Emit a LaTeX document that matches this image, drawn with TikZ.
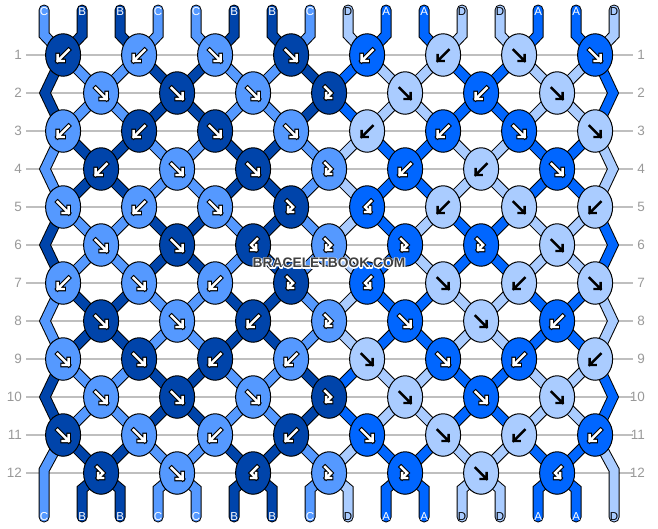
\documentclass[tikz,border=0pt]{standalone}
\usepackage{fontspec}
\setmainfont{Liberation Sans}
\usetikzlibrary{shapes.geometric}

\pgfdeclarelayer{lines}
\pgfdeclarelayer{strands}
\pgfsetlayers{lines,strands,main}

\newlength{\du}
\setlength{\du}{1pt}

\definecolor{colA}{rgb}{0.000000, 0.400000, 1.000000}
\definecolor{colB}{rgb}{0.000000, 0.266667, 0.666667}
\definecolor{colC}{rgb}{0.333333, 0.600000, 1.000000}
\definecolor{colD}{rgb}{0.666667, 0.800000, 1.000000}
\colorlet{txtA}{white}
\colorlet{txtB}{white}
\colorlet{txtC}{white}
\colorlet{txtD}{black}
\colorlet{rimA}{black}
\colorlet{rimB}{black}
\colorlet{rimC}{black}
\colorlet{rimD}{colD}
\definecolor{gridcolor}{rgb}{0.750000, 0.750000, 0.750000}
\definecolor{numcolor}{rgb}{0.600000, 0.600000, 0.600000}
\definecolor{markcolor}{rgb}{0.250000, 0.250000, 0.250000}

\tikzset{
  knot/.style={ellipse, draw=black, line width=1\du, minimum width=35\du, minimum height=42.5\du, inner sep=0pt},
  strandrim/.style={draw=black, line width=11\du, line cap=round, line join=miter},
  strandfill/.style={line width=9\du, line cap=round, line join=miter},
  glyphrim/.style={line width=4.6\du, line cap=rect, line join=miter},
  glyphfill/.style={line width=2.4\du, line cap=rect, line join=miter},
  rownum/.style={anchor=east, inner sep=0pt, text=numcolor, font=\fontsize{13.5}{14}\selectfont},
  endlabel/.style={inner sep=0pt, font=\fontsize{11.5}{12}\selectfont},
  watermark/.style={inner sep=0pt, font=\bfseries\fontsize{13.8}{14}\selectfont},
}

% one strand: black rim, then its colour
\newcommand{\knotstrand}[2]{%
  \draw[strandrim] #2;
  \draw[strandfill, draw=#1] #2;
}

% knot arrows: x, y, colour letter, path
\newcommand{\glyphpath}[4]{%
  \draw[glyphrim, draw=rim#3, shift={(#1\du,#2\du)}] #4;
  \draw[glyphfill, draw=txt#3, shift={(#1\du,#2\du)}] #4;
}
\newcommand{\glyphr}[3]{\glyphpath{#1}{#2}{#3}{(-5.5\du,-5\du) -- (5.5\du,6\du) (-0.5\du,6\du) -- (5.5\du,6\du) -- (5.5\du,0\du)}}
\newcommand{\glyphl}[3]{\glyphpath{#1}{#2}{#3}{(5.5\du,-5\du) -- (-5.5\du,6\du) (0.5\du,6\du) -- (-5.5\du,6\du) -- (-5.5\du,0\du)}}
\newcommand{\glyphrl}[3]{\glyphpath{#1}{#2}{#3}{(-4\du,-6\du) -- (2\du,0\du) -- (-3\du,5\du) (-3\du,0\du) -- (-3\du,5\du) -- (2\du,5\du)}}
\newcommand{\glyphlr}[3]{\glyphpath{#1}{#2}{#3}{(4\du,-6\du) -- (-2\du,0\du) -- (3\du,5\du) (3\du,0\du) -- (3\du,5\du) -- (-2\du,5\du)}}

% watermark text with a white rim
\newcommand{\haloword}[1]{%
  \rlap{\textcolor{white}{\special{pdf:literal direct 2 w 1 j 2 Tr}#1\special{pdf:literal direct 0 Tr}}}%
  \textcolor{markcolor}{#1}}

\begin{document}
\begin{tikzpicture}
\pgftransformxscale{1.000000}
\pgftransformyscale{-1.000000}
\useasboundingbox (0\du,0\du) rectangle (658\du,528\du);

% row lines and numbers
\foreach \rw in {1,...,12}{
  \pgfmathsetmacro{\ry}{17+38*\rw}
  \begin{pgfonlayer}{lines}
  \draw[gridcolor, line width=1.2\du] (26\du,\ry\du) -- (632.5\du,\ry\du);
  \end{pgfonlayer}
  \node[rownum] (nl\rw) at (22\du,\ry\du) {\rw};
  \node[rownum] (nr\rw) at (645\du,\ry\du) {\rw};
}

% knots, row by row
\foreach \rw/\row in {
  1/{B/l,C/l,C/r,B/r,A/l,D/l,D/r,A/r},
  2/{C/r,B/r,C/r,B/rl,D/r,A/l,D/r},
  3/{C/l,B/l,B/r,C/r,D/l,A/l,A/r,D/r},
  4/{B/l,C/r,B/r,C/rl,A/l,D/l,A/r},
  5/{C/r,C/l,C/r,B/rl,A/lr,D/l,D/r,D/l},
  6/{C/r,B/r,B/lr,C/rl,A/rl,A/rl,D/r},
  7/{C/l,C/r,C/l,B/rl,A/lr,D/r,D/l,D/r},
  8/{B/r,C/r,B/l,C/rl,A/r,D/r,A/l},
  9/{C/r,B/r,B/l,C/l,D/r,A/r,A/l,D/l},
  10/{C/r,B/r,C/r,B/rl,D/r,A/r,D/r},
  11/{B/r,C/r,C/l,B/l,A/r,D/r,D/l,A/l},
  12/{B/rl,C/r,B/lr,C/rl,A/rl,D/r,A/lr}}{
  \foreach \kc/\kt [count=\kn] in \row {
    \pgfmathsetmacro{\kx}{isodd(\rw) ? -12.9+76*\kn : 25.1+76*\kn}
    \pgfmathsetmacro{\ky}{17+38*\rw}
    \node[knot, fill=col\kc] (k\rw-\kn) at (\kx\du,\ky\du) {};
    \csname glyph\kt\endcsname{\kx}{\ky}{\kc}
  }
}

% strands between rows
\foreach \rw/\seq in {
  1/{B,C,C,B,B,C,C,B,A,D,D,A,A,D,D,A},
  2/{B,C,C,B,B,C,C,B,A,D,D,A,A,D,D,A},
  3/{C,B,B,C,C,B,B,C,D,A,A,D,D,A,A,D},
  4/{C,B,B,C,C,B,B,C,D,A,A,D,D,A,A,D},
  5/{B,C,C,B,B,C,B,C,D,A,D,A,A,D,D,A},
  6/{B,C,C,B,B,C,B,C,D,A,D,A,A,D,D,A},
  7/{C,B,B,C,C,B,B,C,D,A,A,D,D,A,A,D},
  8/{C,B,B,C,C,B,B,C,D,A,A,D,D,A,A,D},
  9/{B,C,C,B,B,C,C,B,A,D,D,A,A,D,D,A},
  10/{B,C,C,B,B,C,C,B,A,D,D,A,A,D,D,A},
  11/{C,B,B,C,C,B,B,C,D,A,A,D,D,A,A,D}}{
  \pgfmathtruncatemacro{\nr}{\rw+1}
  \foreach \sc [count=\p] in \seq {
    \pgfmathtruncatemacro{\ks}{isodd(\rw) ? (\p+1)/2 : \p/2}
    \pgfmathtruncatemacro{\ke}{isodd(\rw) ? \p/2 : (\p+1)/2}
    \ifnum\p>1 \ifnum\p<16
      \begin{pgfonlayer}{strands}
      \knotstrand{col\sc}{(k\rw-\ks.center) -- (k\nr-\ke.center)}
      \end{pgfonlayer}
    \fi\fi
  }
}

% outer strands on the even rows
\foreach \rw/\lcol/\rcol in {2/B/A,4/C/D,6/B/A,8/C/D,10/B/A}{
  \pgfmathtruncatemacro{\pr}{\rw-1}
  \pgfmathtruncatemacro{\nr}{\rw+1}
  \pgfmathsetmacro{\ey}{17+38*\rw}
  \coordinate (el\rw) at (45\du,\ey\du);
  \coordinate (er\rw) at (613\du,\ey\du);
  \begin{pgfonlayer}{strands}
  \knotstrand{col\lcol}{(k\pr-1.center) -- (el\rw) -- (k\nr-1.center)}
  \knotstrand{col\rcol}{(k\pr-8.center) -- (er\rw) -- (k\nr-8.center)}
  \end{pgfonlayer}
}

% strand ends, top
\foreach \sc [count=\p] in {C,B,B,C,C,B,B,C,D,A,A,D,D,A,A,D}{
  \pgfmathsetmacro{\sx}{6.1+38*\p}
  \pgfmathtruncatemacro{\kn}{(\p+1)/2}
  \coordinate (top\p) at (\sx\du,10\du);
  \coordinate (topb\p) at (\sx\du,35\du);
  \node[endlabel, text=txt\sc] (ltop\p) at (\sx\du,12\du) {\sc};
  \begin{pgfonlayer}{strands}
  \knotstrand{col\sc}{(top\p) -- (topb\p) -- (k1-\kn.center)}
  \end{pgfonlayer}
}

% strand ends, bottom
\foreach \sc [count=\p] in {C,B,B,C,C,B,B,C,D,A,A,D,D,A,A,D}{
  \pgfmathsetmacro{\sx}{6.1+38*\p}
  \pgfmathtruncatemacro{\kn}{\p/2}
  \coordinate (bot\p) at (\sx\du,517\du);
  \node[endlabel, text=txt\sc] (lbot\p) at (\sx\du,516.5\du) {\sc};
  \begin{pgfonlayer}{strands}
  \ifnum\p=1
    \coordinate (botb\p) at (\sx\du,470\du);
    \knotstrand{col\sc}{(k11-1.center) -- (botb\p) -- (bot\p)}
  \else\ifnum\p=16
    \coordinate (botb\p) at (\sx\du,470\du);
    \knotstrand{col\sc}{(k11-8.center) -- (botb\p) -- (bot\p)}
  \else
    \coordinate (botb\p) at (\sx\du,489\du);
    \knotstrand{col\sc}{(k12-\kn.center) -- (botb\p) -- (bot\p)}
  \fi\fi
  \end{pgfonlayer}
}

% watermark
\node[watermark] (mark) at (329\du,263\du) {\haloword{BRACELETBOOK.COM}};
\end{tikzpicture}
\end{document}
